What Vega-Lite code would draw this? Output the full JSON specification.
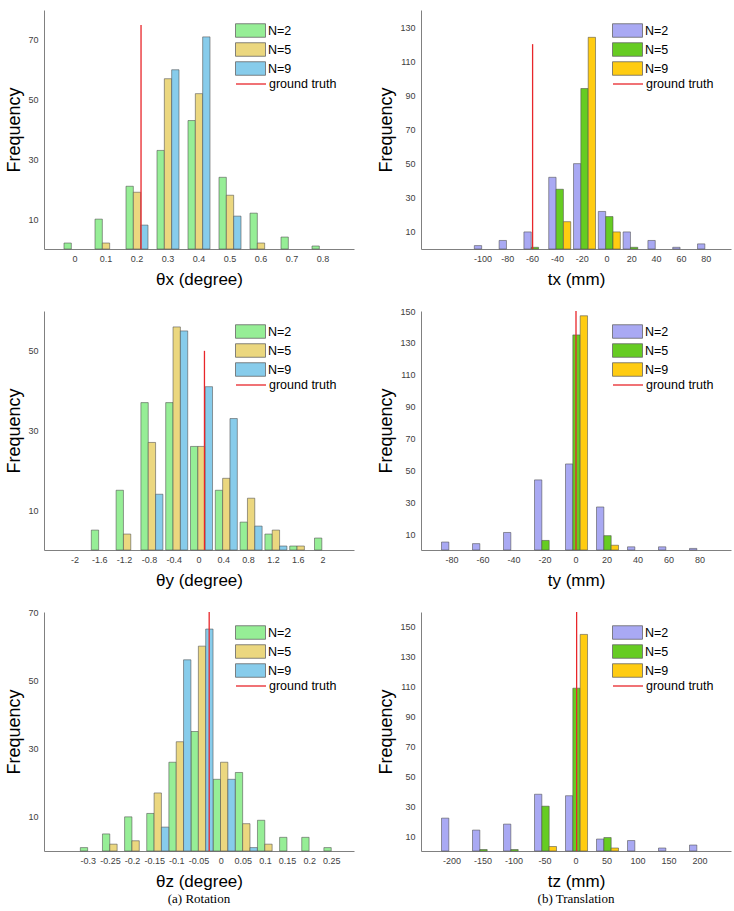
{
  "$schema": "https://vega.github.io/schema/vega-lite/v6.json",
  "padding": {"left": 5, "top": 10, "right": 5, "bottom": 5},
  "config": {
    "font": "Liberation Sans",
    "view": {"stroke": null},
    "axis": {"grid": false, "ticks": false, "domainColor": "#808080", "domainWidth": 1, "labelColor": "#404040", "labelFontSize": 9, "titleFontWeight": "normal", "titleColor": "#000000", "labelOverlap": false},
    "axisX": {"titleFontSize": 17, "labelPadding": 5, "titlePadding": 8, "labelAngle": 0},
    "axisY": {"titleFontSize": 18, "labelPadding": 6, "titlePadding": 4},
    "legend": {"labelFontSize": 12.5, "labelColor": "#000000"}
  },
  "datasets": {
    "thx": [
      {"bin": 0, "N": "N=2", "count": 2}, {"bin": 0.1, "N": "N=2", "count": 10}, {"bin": 0.2, "N": "N=2", "count": 21},
      {"bin": 0.3, "N": "N=2", "count": 33}, {"bin": 0.4, "N": "N=2", "count": 43}, {"bin": 0.5, "N": "N=2", "count": 24},
      {"bin": 0.6, "N": "N=2", "count": 12}, {"bin": 0.7, "N": "N=2", "count": 4}, {"bin": 0.8, "N": "N=2", "count": 1},
      {"bin": 0.1, "N": "N=5", "count": 2}, {"bin": 0.2, "N": "N=5", "count": 19}, {"bin": 0.3, "N": "N=5", "count": 57},
      {"bin": 0.4, "N": "N=5", "count": 52}, {"bin": 0.5, "N": "N=5", "count": 18}, {"bin": 0.6, "N": "N=5", "count": 2},
      {"bin": 0.2, "N": "N=9", "count": 8}, {"bin": 0.3, "N": "N=9", "count": 60}, {"bin": 0.4, "N": "N=9", "count": 71},
      {"bin": 0.5, "N": "N=9", "count": 11}
    ],
    "thx_gt": [{"gt": 0.213, "base": 0, "top": 75, "label": "ground truth"}],
    "tx": [
      {"bin": -100, "N": "N=2", "count": 2}, {"bin": -80, "N": "N=2", "count": 5}, {"bin": -60, "N": "N=2", "count": 10},
      {"bin": -40, "N": "N=2", "count": 42}, {"bin": -20, "N": "N=2", "count": 50}, {"bin": 0, "N": "N=2", "count": 22},
      {"bin": 20, "N": "N=2", "count": 10}, {"bin": 40, "N": "N=2", "count": 5}, {"bin": 60, "N": "N=2", "count": 1},
      {"bin": 80, "N": "N=2", "count": 3},
      {"bin": -60, "N": "N=5", "count": 1}, {"bin": -40, "N": "N=5", "count": 35}, {"bin": -20, "N": "N=5", "count": 94},
      {"bin": 0, "N": "N=5", "count": 19}, {"bin": 20, "N": "N=5", "count": 1},
      {"bin": -40, "N": "N=9", "count": 16}, {"bin": -20, "N": "N=9", "count": 124}, {"bin": 0, "N": "N=9", "count": 10}
    ],
    "tx_gt": [{"gt": -60, "base": 0, "top": 120, "label": "ground truth"}],
    "thy": [
      {"bin": -1.6, "N": "N=2", "count": 5}, {"bin": -1.2, "N": "N=2", "count": 15}, {"bin": -0.8, "N": "N=2", "count": 37},
      {"bin": -0.4, "N": "N=2", "count": 37}, {"bin": 0, "N": "N=2", "count": 26}, {"bin": 0.4, "N": "N=2", "count": 15},
      {"bin": 0.8, "N": "N=2", "count": 7}, {"bin": 1.2, "N": "N=2", "count": 4}, {"bin": 1.6, "N": "N=2", "count": 1},
      {"bin": 2, "N": "N=2", "count": 3},
      {"bin": -1.2, "N": "N=5", "count": 4}, {"bin": -0.8, "N": "N=5", "count": 27}, {"bin": -0.4, "N": "N=5", "count": 56},
      {"bin": 0, "N": "N=5", "count": 26}, {"bin": 0.4, "N": "N=5", "count": 18}, {"bin": 0.8, "N": "N=5", "count": 13},
      {"bin": 1.2, "N": "N=5", "count": 5}, {"bin": 1.6, "N": "N=5", "count": 1},
      {"bin": -0.8, "N": "N=9", "count": 14}, {"bin": -0.4, "N": "N=9", "count": 55}, {"bin": 0, "N": "N=9", "count": 41},
      {"bin": 0.4, "N": "N=9", "count": 33}, {"bin": 0.8, "N": "N=9", "count": 6}, {"bin": 1.2, "N": "N=9", "count": 1}
    ],
    "thy_gt": [{"gt": 0.088, "base": 0, "top": 50, "label": "ground truth"}],
    "ty": [
      {"bin": -80, "N": "N=2", "count": 5}, {"bin": -60, "N": "N=2", "count": 4}, {"bin": -40, "N": "N=2", "count": 11},
      {"bin": -20, "N": "N=2", "count": 44}, {"bin": 0, "N": "N=2", "count": 54}, {"bin": 20, "N": "N=2", "count": 27},
      {"bin": 40, "N": "N=2", "count": 2}, {"bin": 60, "N": "N=2", "count": 2}, {"bin": 80, "N": "N=2", "count": 1},
      {"bin": -20, "N": "N=5", "count": 6}, {"bin": 0, "N": "N=5", "count": 135}, {"bin": 20, "N": "N=5", "count": 9},
      {"bin": 0, "N": "N=9", "count": 147}, {"bin": 20, "N": "N=9", "count": 3}
    ],
    "ty_gt": [{"gt": 0, "base": 0, "top": 150, "label": "ground truth"}],
    "thz": [
      {"bin": -0.3, "N": "N=2", "count": 1}, {"bin": -0.25, "N": "N=2", "count": 5}, {"bin": -0.2, "N": "N=2", "count": 10},
      {"bin": -0.15, "N": "N=2", "count": 11}, {"bin": -0.1, "N": "N=2", "count": 26}, {"bin": -0.05, "N": "N=2", "count": 35},
      {"bin": 0, "N": "N=2", "count": 21}, {"bin": 0.05, "N": "N=2", "count": 23}, {"bin": 0.1, "N": "N=2", "count": 9},
      {"bin": 0.15, "N": "N=2", "count": 4}, {"bin": 0.2, "N": "N=2", "count": 4}, {"bin": 0.25, "N": "N=2", "count": 1},
      {"bin": -0.25, "N": "N=5", "count": 2}, {"bin": -0.2, "N": "N=5", "count": 3}, {"bin": -0.15, "N": "N=5", "count": 17},
      {"bin": -0.1, "N": "N=5", "count": 32}, {"bin": -0.05, "N": "N=5", "count": 60}, {"bin": 0, "N": "N=5", "count": 26},
      {"bin": 0.05, "N": "N=5", "count": 8}, {"bin": 0.1, "N": "N=5", "count": 2},
      {"bin": -0.15, "N": "N=9", "count": 7}, {"bin": -0.1, "N": "N=9", "count": 56}, {"bin": -0.05, "N": "N=9", "count": 65},
      {"bin": 0, "N": "N=9", "count": 21}, {"bin": 0.05, "N": "N=9", "count": 1}
    ],
    "thz_gt": [{"gt": -0.027, "base": 0, "top": 70, "label": "ground truth"}],
    "tz": [
      {"bin": -200, "N": "N=2", "count": 22}, {"bin": -150, "N": "N=2", "count": 14}, {"bin": -100, "N": "N=2", "count": 18},
      {"bin": -50, "N": "N=2", "count": 38}, {"bin": 0, "N": "N=2", "count": 37}, {"bin": 50, "N": "N=2", "count": 8},
      {"bin": 100, "N": "N=2", "count": 7}, {"bin": 150, "N": "N=2", "count": 2}, {"bin": 200, "N": "N=2", "count": 4},
      {"bin": -150, "N": "N=5", "count": 1}, {"bin": -100, "N": "N=5", "count": 1}, {"bin": -50, "N": "N=5", "count": 30},
      {"bin": 0, "N": "N=5", "count": 109}, {"bin": 50, "N": "N=5", "count": 9},
      {"bin": -50, "N": "N=9", "count": 3}, {"bin": 0, "N": "N=9", "count": 145}, {"bin": 50, "N": "N=9", "count": 2}
    ],
    "tz_gt": [{"gt": 1, "base": 0, "top": 160, "label": "ground truth"}]
  },
  "columns": 2,
  "spacing": {"row": 20, "column": 23},
  "resolve": {
    "scale": {"color": "independent", "stroke": "independent"},
    "legend": {"color": "independent", "stroke": "independent"}
  },
  "concat": [
    {
      "width": 310, "height": 239,
      "resolve": {"scale": {"x": "independent"}},
      "layer": [
        {
          "data": {"name": "thx"},
          "mark": {"type": "bar", "stroke": "#4d4d4d", "strokeWidth": 0.7, "strokeOpacity": 0.8},
          "encoding": {
            "x": {"field": "bin", "type": "ordinal", "title": "θx (degree)", "scale": {"domain": [0, 0.1, 0.2, 0.3, 0.4, 0.5, 0.6, 0.7, 0.8], "paddingInner": 0.29, "paddingOuter": 0.645, "align": 0.5}},
            "xOffset": {"field": "N", "type": "nominal"},
            "y": {"field": "count", "type": "quantitative", "stack": null, "title": "Frequency", "scale": {"domain": [0, 80], "nice": false}, "axis": {"values": [10, 30, 50, 70], "tickCount": 20}},
            "color": {"field": "N", "type": "nominal", "scale": {"domain": ["N=2", "N=5", "N=9"], "range": ["#96ee96", "#ebd77f", "#87cceb"]},
              "legend": {"title": null, "orient": "none", "legendX": 198.5, "legendY": 12.5, "padding": 0, "symbolType": "M-2,-0.9H2V0.9H-2Z", "symbolSize": 225, "labelOffset": 9.5, "rowPadding": 1, "symbolStrokeColor": "#666666", "symbolStrokeWidth": 0.8, "symbolOpacity": 1}}
          }
        },
        {
          "data": {"name": "thx_gt"},
          "mark": {"type": "rule", "strokeWidth": 1.3},
          "encoding": {
            "x": {"field": "gt", "type": "quantitative", "scale": {"domain": [-0.1, 0.9], "nice": false, "zero": false}, "axis": null},
            "y": {"field": "base", "type": "quantitative", "title": "Frequency"},
            "y2": {"field": "top"},
            "stroke": {"field": "label", "type": "nominal", "scale": {"range": ["#e8262a"]},
              "legend": {"title": null, "orient": "none", "legendX": 198.5, "legendY": 65.5, "padding": 0, "symbolType": "M-2,-0.9L-2,-0.9M-2,0H2M2,0.9L2,0.9", "symbolSize": 225, "symbolStrokeWidth": 1.3, "labelOffset": 9.5}}
          }
        }
      ]
    },
    {
      "width": 310, "height": 239,
      "resolve": {"scale": {"x": "independent"}},
      "layer": [
        {
          "data": {"name": "tx"},
          "mark": {"type": "bar", "stroke": "#4d4d4d", "strokeWidth": 0.7, "strokeOpacity": 0.8},
          "encoding": {
            "x": {"field": "bin", "type": "ordinal", "title": "tx  (mm)", "scale": {"domain": [-140, -120, -100, -80, -60, -40, -20, 0, 20, 40, 60, 80], "paddingInner": 0.3, "paddingOuter": 0.4, "align": 0.1875}, "axis": {"values": [-100, -80, -60, -40, -20, 0, 20, 40, 60, 80]}},
            "xOffset": {"field": "N", "type": "nominal"},
            "y": {"field": "count", "type": "quantitative", "stack": null, "title": "Frequency", "scale": {"domain": [0, 140], "nice": false}, "axis": {"values": [10, 30, 50, 70, 90, 110, 130], "tickCount": 20}},
            "color": {"field": "N", "type": "nominal", "scale": {"domain": ["N=2", "N=5", "N=9"], "range": ["#a9a9f3", "#66cc22", "#ffcc11"]},
              "legend": {"title": null, "orient": "none", "legendX": 198.5, "legendY": 12.5, "padding": 0, "symbolType": "M-2,-0.9H2V0.9H-2Z", "symbolSize": 225, "labelOffset": 9.5, "rowPadding": 1, "symbolStrokeColor": "#666666", "symbolStrokeWidth": 0.8, "symbolOpacity": 1}}
          }
        },
        {
          "data": {"name": "tx_gt"},
          "mark": {"type": "rule", "strokeWidth": 1.3},
          "encoding": {
            "x": {"field": "gt", "type": "quantitative", "scale": {"domain": [-150, 100], "nice": false, "zero": false}, "axis": null},
            "y": {"field": "base", "type": "quantitative", "title": "Frequency"},
            "y2": {"field": "top"},
            "stroke": {"field": "label", "type": "nominal", "scale": {"range": ["#e8262a"]},
              "legend": {"title": null, "orient": "none", "legendX": 198.5, "legendY": 65.5, "padding": 0, "symbolType": "M-2,-0.9L-2,-0.9M-2,0H2M2,0.9L2,0.9", "symbolSize": 225, "symbolStrokeWidth": 1.3, "labelOffset": 9.5}}
          }
        }
      ]
    },
    {
      "width": 310, "height": 239,
      "resolve": {"scale": {"x": "independent"}},
      "layer": [
        {
          "data": {"name": "thy"},
          "mark": {"type": "bar", "stroke": "#4d4d4d", "strokeWidth": 0.7, "strokeOpacity": 0.8},
          "encoding": {
            "x": {"field": "bin", "type": "ordinal", "title": "θy (degree)", "scale": {"domain": [-2, -1.6, -1.2, -0.8, -0.4, 0, 0.4, 0.8, 1.2, 1.6, 2], "paddingInner": 0.315, "paddingOuter": 0.9075, "align": 0.5}},
            "xOffset": {"field": "N", "type": "nominal"},
            "y": {"field": "count", "type": "quantitative", "stack": null, "title": "Frequency", "scale": {"domain": [0, 60], "nice": false}, "axis": {"values": [10, 30, 50], "tickCount": 20}},
            "color": {"field": "N", "type": "nominal", "scale": {"domain": ["N=2", "N=5", "N=9"], "range": ["#96ee96", "#ebd77f", "#87cceb"]},
              "legend": {"title": null, "orient": "none", "legendX": 198.5, "legendY": 12.5, "padding": 0, "symbolType": "M-2,-0.9H2V0.9H-2Z", "symbolSize": 225, "labelOffset": 9.5, "rowPadding": 1, "symbolStrokeColor": "#666666", "symbolStrokeWidth": 0.8, "symbolOpacity": 1}}
          }
        },
        {
          "data": {"name": "thy_gt"},
          "mark": {"type": "rule", "strokeWidth": 1.3},
          "encoding": {
            "x": {"field": "gt", "type": "quantitative", "scale": {"domain": [-2.5, 2.5], "nice": false, "zero": false}, "axis": null},
            "y": {"field": "base", "type": "quantitative", "title": "Frequency"},
            "y2": {"field": "top"},
            "stroke": {"field": "label", "type": "nominal", "scale": {"range": ["#e8262a"]},
              "legend": {"title": null, "orient": "none", "legendX": 198.5, "legendY": 65.5, "padding": 0, "symbolType": "M-2,-0.9L-2,-0.9M-2,0H2M2,0.9L2,0.9", "symbolSize": 225, "symbolStrokeWidth": 1.3, "labelOffset": 9.5}}
          }
        }
      ]
    },
    {
      "width": 310, "height": 239,
      "resolve": {"scale": {"x": "independent"}},
      "layer": [
        {
          "data": {"name": "ty"},
          "mark": {"type": "bar", "stroke": "#4d4d4d", "strokeWidth": 0.7, "strokeOpacity": 0.8},
          "encoding": {
            "x": {"field": "bin", "type": "ordinal", "title": "ty (mm)", "scale": {"domain": [-80, -60, -40, -20, 0, 20, 40, 60, 80], "paddingInner": 0.323, "paddingOuter": 0.6615, "align": 0.5}},
            "xOffset": {"field": "N", "type": "nominal"},
            "y": {"field": "count", "type": "quantitative", "stack": null, "title": "Frequency", "scale": {"domain": [0, 150], "nice": false}, "axis": {"values": [10, 30, 50, 70, 90, 110, 130, 150], "tickCount": 20}},
            "color": {"field": "N", "type": "nominal", "scale": {"domain": ["N=2", "N=5", "N=9"], "range": ["#a9a9f3", "#66cc22", "#ffcc11"]},
              "legend": {"title": null, "orient": "none", "legendX": 198.5, "legendY": 12.5, "padding": 0, "symbolType": "M-2,-0.9H2V0.9H-2Z", "symbolSize": 225, "labelOffset": 9.5, "rowPadding": 1, "symbolStrokeColor": "#666666", "symbolStrokeWidth": 0.8, "symbolOpacity": 1}}
          }
        },
        {
          "data": {"name": "ty_gt"},
          "mark": {"type": "rule", "strokeWidth": 1.3},
          "encoding": {
            "x": {"field": "gt", "type": "quantitative", "scale": {"domain": [-100, 100], "nice": false, "zero": false}, "axis": null},
            "y": {"field": "base", "type": "quantitative", "title": "Frequency"},
            "y2": {"field": "top"},
            "stroke": {"field": "label", "type": "nominal", "scale": {"range": ["#e8262a"]},
              "legend": {"title": null, "orient": "none", "legendX": 198.5, "legendY": 65.5, "padding": 0, "symbolType": "M-2,-0.9L-2,-0.9M-2,0H2M2,0.9L2,0.9", "symbolSize": 225, "symbolStrokeWidth": 1.3, "labelOffset": 9.5}}
          }
        }
      ]
    },
    {
      "width": 310, "height": 239,
      "title": {"text": "(a) Rotation", "orient": "bottom", "font": "Liberation Serif", "fontSize": 13, "fontWeight": "normal", "color": "#000000", "offset": 4},
      "resolve": {"scale": {"x": "independent"}},
      "layer": [
        {
          "data": {"name": "thz"},
          "mark": {"type": "bar", "stroke": "#4d4d4d", "strokeWidth": 0.7, "strokeOpacity": 0.8},
          "encoding": {
            "x": {"field": "bin", "type": "ordinal", "title": "θz (degree)", "scale": {"domain": [-0.35, -0.3, -0.25, -0.2, -0.15, -0.1, -0.05, 0, 0.05, 0.1, 0.15, 0.2, 0.25], "paddingInner": 0.28, "paddingOuter": 0.64, "align": 0.5}, "axis": {"values": [-0.3, -0.25, -0.2, -0.15, -0.1, -0.05, 0, 0.05, 0.1, 0.15, 0.2, 0.25]}},
            "xOffset": {"field": "N", "type": "nominal"},
            "y": {"field": "count", "type": "quantitative", "stack": null, "title": "Frequency", "scale": {"domain": [0, 70], "nice": false}, "axis": {"values": [10, 30, 50, 70], "tickCount": 20}},
            "color": {"field": "N", "type": "nominal", "scale": {"domain": ["N=2", "N=5", "N=9"], "range": ["#96ee96", "#ebd77f", "#87cceb"]},
              "legend": {"title": null, "orient": "none", "legendX": 198.5, "legendY": 12.5, "padding": 0, "symbolType": "M-2,-0.9H2V0.9H-2Z", "symbolSize": 225, "labelOffset": 9.5, "rowPadding": 1, "symbolStrokeColor": "#666666", "symbolStrokeWidth": 0.8, "symbolOpacity": 1}}
          }
        },
        {
          "data": {"name": "thz_gt"},
          "mark": {"type": "rule", "strokeWidth": 1.3},
          "encoding": {
            "x": {"field": "gt", "type": "quantitative", "scale": {"domain": [-0.4, 0.3], "nice": false, "zero": false}, "axis": null},
            "y": {"field": "base", "type": "quantitative", "title": "Frequency"},
            "y2": {"field": "top"},
            "stroke": {"field": "label", "type": "nominal", "scale": {"range": ["#e8262a"]},
              "legend": {"title": null, "orient": "none", "legendX": 198.5, "legendY": 65.5, "padding": 0, "symbolType": "M-2,-0.9L-2,-0.9M-2,0H2M2,0.9L2,0.9", "symbolSize": 225, "symbolStrokeWidth": 1.3, "labelOffset": 9.5}}
          }
        }
      ]
    },
    {
      "width": 310, "height": 239,
      "title": {"text": "(b) Translation", "orient": "bottom", "font": "Liberation Serif", "fontSize": 13, "fontWeight": "normal", "color": "#000000", "offset": 4},
      "resolve": {"scale": {"x": "independent"}},
      "layer": [
        {
          "data": {"name": "tz"},
          "mark": {"type": "bar", "stroke": "#4d4d4d", "strokeWidth": 0.7, "strokeOpacity": 0.8},
          "encoding": {
            "x": {"field": "bin", "type": "ordinal", "title": "tz (mm)", "scale": {"domain": [-200, -150, -100, -50, 0, 50, 100, 150, 200], "paddingInner": 0.323, "paddingOuter": 0.6615, "align": 0.5}},
            "xOffset": {"field": "N", "type": "nominal"},
            "y": {"field": "count", "type": "quantitative", "stack": null, "title": "Frequency", "scale": {"domain": [0, 160], "nice": false}, "axis": {"values": [10, 30, 50, 70, 90, 110, 130, 150], "tickCount": 20}},
            "color": {"field": "N", "type": "nominal", "scale": {"domain": ["N=2", "N=5", "N=9"], "range": ["#a9a9f3", "#66cc22", "#ffcc11"]},
              "legend": {"title": null, "orient": "none", "legendX": 198.5, "legendY": 12.5, "padding": 0, "symbolType": "M-2,-0.9H2V0.9H-2Z", "symbolSize": 225, "labelOffset": 9.5, "rowPadding": 1, "symbolStrokeColor": "#666666", "symbolStrokeWidth": 0.8, "symbolOpacity": 1}}
          }
        },
        {
          "data": {"name": "tz_gt"},
          "mark": {"type": "rule", "strokeWidth": 1.3},
          "encoding": {
            "x": {"field": "gt", "type": "quantitative", "scale": {"domain": [-250, 250], "nice": false, "zero": false}, "axis": null},
            "y": {"field": "base", "type": "quantitative", "title": "Frequency"},
            "y2": {"field": "top"},
            "stroke": {"field": "label", "type": "nominal", "scale": {"range": ["#e8262a"]},
              "legend": {"title": null, "orient": "none", "legendX": 198.5, "legendY": 65.5, "padding": 0, "symbolType": "M-2,-0.9L-2,-0.9M-2,0H2M2,0.9L2,0.9", "symbolSize": 225, "symbolStrokeWidth": 1.3, "labelOffset": 9.5}}
          }
        }
      ]
    }
  ]
}
